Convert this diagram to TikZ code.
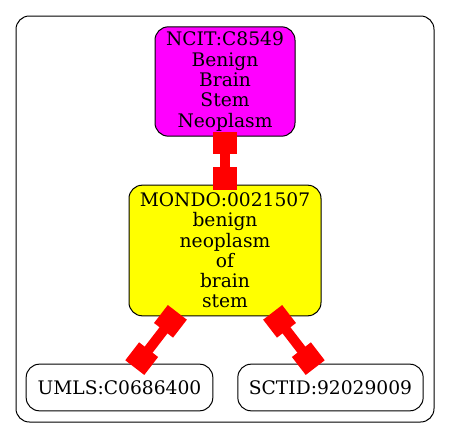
\documentclass[tikz,border=0pt]{standalone}
\usepackage{fontspec}
\setmainfont{DejaVu Serif}
\usetikzlibrary{arrows.meta}
\definecolor{ncitfill}{RGB}{255,0,255}
\definecolor{mondofill}{RGB}{255,255,0}

\begin{document}
\begin{tikzpicture}[x=.75pt,y=-.75pt,
  term/.style={draw,rounded corners=10pt,line width=.75pt,align=center,inner sep=0pt,font=\fontsize{14}{15.2}\selectfont},
  link/.style={red,line width=7.5pt,{Square[length=17pt,width=18pt]}-{Square[length=17pt,width=18pt]},shorten <=-3.75pt,shorten >=-3.75pt}]
\useasboundingbox (0,0) rectangle (451,439);
\draw[rounded corners=10pt,line width=.75pt] (16,16) rectangle (434,422);
\node[term,fill=ncitfill,minimum width=105pt,minimum height=82pt] (ncit) at (225,81.5) {NCIT:C8549\\Benign\\Brain\\Stem\\Neoplasm};
\node[term,fill=mondofill,minimum width=144pt,minimum height=98pt] (mondo) at (225,250.5) {MONDO:0021507\\benign\\neoplasm\\of\\brain\\stem};
\node[term,minimum width=140pt,minimum height=35pt] (umls) at (119.5,387.5) {UMLS:C0686400};
\node[term,minimum width=139pt,minimum height=35pt] (sctid) at (330.5,387.5) {SCTID:92029009};
\foreach \a/\b in {ncit/mondo,mondo/umls,mondo/sctid}{\draw[link] (\a) -- (\b);}
\end{tikzpicture}
\end{document}
